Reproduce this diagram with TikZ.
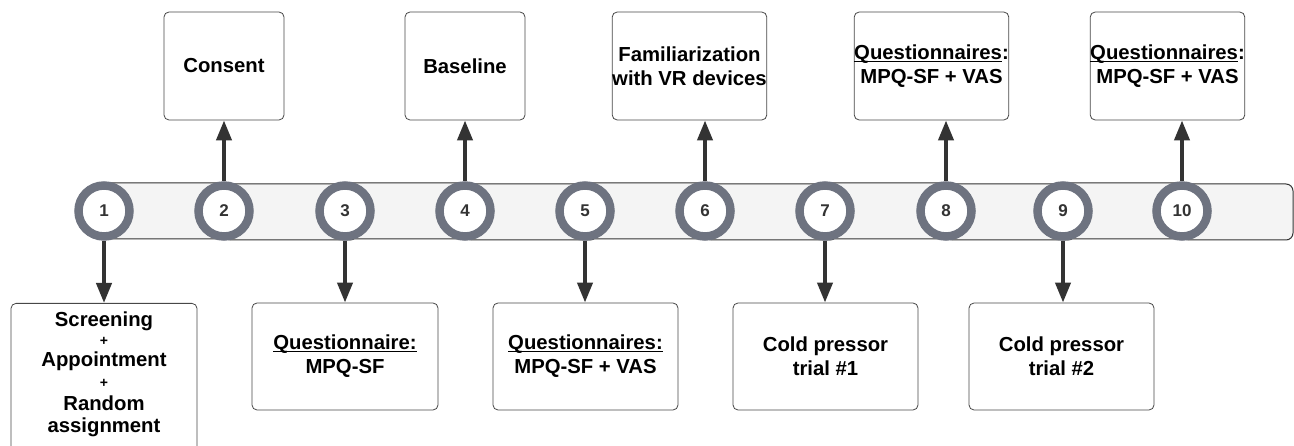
\documentclass[tikz,border=0pt]{standalone}
\usepackage{fontspec}
\setmainfont{Liberation Sans}
\usetikzlibrary{arrows.meta}
\definecolor{ringc}{HTML}{6E7380}
\definecolor{darkc}{HTML}{333333}
\definecolor{barc}{HTML}{F4F4F4}
\tikzset{
  seg/.style={draw=darkc, line width=1pt, fill=barc, rounded corners=7pt},
  ring/.style={circle, draw=ringc, line width=8.5pt, fill=white, minimum size=51pt, inner sep=0pt, font=\fontsize{17}{17}\selectfont\bfseries, text=darkc},
  box/.style={draw=darkc!90, line width=0.8pt, rounded corners=5pt, fill=white, inner sep=0pt, align=center, font=\fontsize{20.3}{24}\selectfont\bfseries, text=black},
  ltxt/.style={anchor=base, inner sep=0pt, font=\fontsize{20.3}{24}\selectfont\bfseries},
  ptxt/.style={anchor=base, inner sep=0pt, font=\fontsize{14}{14}\selectfont\bfseries},
  conn/.style={draw=darkc, line width=4pt, -{Triangle[width=15pt,length=20pt]}},
}
\newcommand{\myul}[1]{\setbox0\hbox{#1}\rlap{\rule[-2.6pt]{\wd0}{1.3pt}}\box0}
\begin{document}
\begin{tikzpicture}[x=1pt,y=-1pt]
\useasboundingbox (0,0) rectangle (1294,446);
\clip (0,0) rectangle (1294,446);
% bar segments
\foreach \xa/\xb/\o in {104/224/0, 224/345/1, 345/465/0, 465/585/1, 585/705/0, 705/825/1, 825/946/0, 946/1063/1, 1063/1182/0}{
  \draw[seg] (\xa,183+\o) rectangle (\xb+12,239+\o);
}
\draw[seg] (1182,184) rectangle (1293,240);
% circles
\foreach \i/\x in {1/104,2/224,3/345,4/465,5/585,6/705,7/825,8/946,9/1063,10/1182}{
  \node[ring] (c\i) at (\x,211) {\i};
}
% top boxes
\node[box, minimum width=120pt, minimum height=108pt] (b2) at (224,66) {Consent};
\node[box, minimum width=120pt, minimum height=108pt] (b4) at (465,66) {Baseline};
\node[box, minimum width=135pt, minimum height=108pt] (b6) at (689.5,66) {Familiarization\\with VR devices};
\node[box, minimum width=135pt, minimum height=108pt] (b8) at (931.5,66) {\myul{Questionnaires}:\\MPQ-SF + VAS};
\node[box, minimum width=135pt, minimum height=108pt] (b10) at (1167.5,66) {\myul{Questionnaires}:\\MPQ-SF + VAS};
% bottom boxes
\node[box, minimum width=186pt, minimum height=170pt, anchor=north] (b1) at (104,303) {};
\node[ltxt] (t1a) at (104,327) {Screening};
\node[ptxt] (t1b) at (104,346) {+};
\node[ltxt] (t1c) at (104,367) {Appointment};
\node[ptxt] (t1d) at (104,388) {+};
\node[ltxt] (t1e) at (104,410) {Random};
\node[ltxt] (t1f) at (104,432) {assignment};
\node[box, minimum width=186pt, minimum height=107pt] (b3) at (345,356.5) {\myul{Questionnaire:}\\MPQ-SF};
\node[box, minimum width=185pt, minimum height=107pt] (b5) at (585.5,356.5) {\myul{Questionnaires:}\\MPQ-SF + VAS};
\node[box, minimum width=185pt, minimum height=107pt] (b7) at (825.5,356.5) {Cold pressor\\trial \#1};
\node[box, minimum width=185pt, minimum height=107pt] (b9) at (1061.5,356.5) {Cold pressor\\trial \#2};
% connectors
\foreach \i in {2,4}{
  \draw[conn] (c\i.north) -- (b\i.south);
}
\foreach \i in {6,8,10}{
  \draw[conn] (c\i.north) -- (c\i.north |- b\i.south);
}
\foreach \i in {1,3}{
  \draw[conn] (c\i.south) -- (b\i.north);
}
\foreach \i in {5,7,9}{
  \draw[conn] (c\i.south) -- (c\i.south |- b\i.north);
}
\end{tikzpicture}
\end{document}
